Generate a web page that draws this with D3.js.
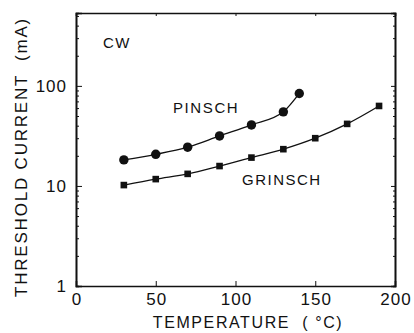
<!DOCTYPE html>
<html>
<head>
<meta charset="utf-8">
<script src="https://cdn.jsdelivr.net/npm/d3@7"></script>
<style>
  body { margin: 0; background: #fff; }
  text { font-family: "Liberation Sans", Arial, sans-serif; fill: #111; white-space: pre; }
</style>
</head>
<body>
<div id="chart"></div>
<script>
// data
let pinschTemp = [30, 50, 70, 90, 110, 130, 140]
let pinschCurrent = [18.2, 20.7, 24.4, 31.6, 40.7, 55, 84]
let grinschTemp = [30, 50, 70, 90, 110, 130, 150, 170, 190]
let grinschCurrent = [10.2, 11.7, 13.2, 15.8, 19.2, 23.3, 30, 41.7, 63]
let xTicks = [0, 50, 100, 150, 200]
let yTicks = [1, 10, 100]

let margin = { top: 13, left: 76, right: 19, bottom: 47 }
let width = 414 - margin.left - margin.right
let height = 333 - margin.top - margin.bottom

let svg = d3.select('#chart')
  .append('svg')
  .attr('width', 414)
  .attr('height', 333)

let g = svg.append('g')
  .attr('transform', `translate(${margin.left},${margin.top})`)

let xPositionScale = d3.scaleLinear().domain([0, 200]).range([0, width])
let yPositionScale = d3.scaleLog().domain([1, 535]).range([height, 0])

// minor ticks 2..9 per decade
let minor = []
for (let dec of [1, 10, 100]) {
  for (let m = 2; m <= 9; m++) {
    if (m * dec <= 535) minor.push(m * dec)
  }
}

// left axis, ticks pointing in
g.append('g')
  .attr('class', 'axis y-axis')
  .call(d3.axisRight(yPositionScale).tickValues(yTicks).tickSize(6).tickFormat(''))
g.append('g')
  .call(d3.axisRight(yPositionScale).tickValues(minor).tickSize(3).tickFormat(''))

// right axis
g.append('g')
  .attr('transform', `translate(${width},0)`)
  .call(d3.axisLeft(yPositionScale).tickValues(yTicks).tickSize(4).tickFormat(''))
g.append('g')
  .attr('transform', `translate(${width},0)`)
  .call(d3.axisLeft(yPositionScale).tickValues(minor).tickSize(2).tickFormat(''))

// bottom axis
g.append('g')
  .attr('transform', `translate(0,${height})`)
  .call(d3.axisTop(xPositionScale).tickValues(xTicks).tickSize(5).tickFormat(''))

// top axis
g.append('g')
  .call(d3.axisBottom(xPositionScale).tickValues(xTicks).tickSize(3).tickFormat(''))

g.selectAll('.domain').attr('stroke', '#111').attr('stroke-width', 1.6)
g.selectAll('.tick line').attr('stroke', '#111').attr('stroke-width', 1)

// tick labels
g.selectAll('.ylab')
  .data(yTicks)
  .enter()
  .append('text')
  .attr('x', -9)
  .attr('y', d => yPositionScale(d))
  .attr('dy', '0.36em')
  .attr('text-anchor', 'end')
  .attr('font-size', 17)
  .attr('letter-spacing', 1)
  .text(d => d)

g.selectAll('.xlab')
  .data(xTicks)
  .enter()
  .append('text')
  .attr('x', d => xPositionScale(d) + 1)
  .attr('y', height + 19)
  .attr('text-anchor', 'middle')
  .attr('font-size', 17)
  .attr('letter-spacing', 1)
  .text(d => d)

// axis titles
svg.append('text')
  .attr('transform', `translate(27,${157}) rotate(-90)`)
  .attr('text-anchor', 'middle')
  .attr('font-size', 17)
  .attr('letter-spacing', 1.8)
  .text('THRESHOLD CURRENT  (mA)')

svg.append('text')
  .attr('x', 248)
  .attr('y', 328)
  .attr('text-anchor', 'middle')
  .attr('font-size', 16)
  .attr('letter-spacing', 1.6)
  .text('TEMPERATURE  ( \u00B0C)')

// lines
let line = d3.line()
  .x(d => xPositionScale(d[0]))
  .y(d => yPositionScale(d[1]))
  .curve(d3.curveMonotoneX)

let pinsch = pinschTemp.map((t, i) => [t, pinschCurrent[i]])
let grinsch = grinschTemp.map((t, i) => [t, grinschCurrent[i]])

g.append('path')
  .datum(pinsch)
  .attr('d', line)
  .attr('fill', 'none')
  .attr('stroke', '#111')
  .attr('stroke-width', 1.3)

g.append('path')
  .datum(grinsch)
  .attr('d', line)
  .attr('fill', 'none')
  .attr('stroke', '#111')
  .attr('stroke-width', 1.3)

g.selectAll('.pin')
  .data(pinsch)
  .enter()
  .append('circle')
  .attr('cx', d => xPositionScale(d[0]))
  .attr('cy', d => yPositionScale(d[1]))
  .attr('r', 4.7)
  .attr('fill', '#111')

g.selectAll('.grin')
  .data(grinsch)
  .enter()
  .append('rect')
  .attr('x', d => xPositionScale(d[0]) - 3.3)
  .attr('y', d => yPositionScale(d[1]) - 3.3)
  .attr('width', 6.6)
  .attr('height', 6.6)
  .attr('fill', '#111')

// annotations
g.append('text').attr('x', 27).attr('y', 35).attr('font-size', 15).attr('letter-spacing', 1.5).text('CW')
g.append('text').attr('x', 97).attr('y', 100).attr('font-size', 15).attr('letter-spacing', 1.6).text('PINSCH')
g.append('text').attr('x', 166).attr('y', 172).attr('font-size', 15).attr('letter-spacing', 1.5).text('GRINSCH')
</script>
</body>
</html>
